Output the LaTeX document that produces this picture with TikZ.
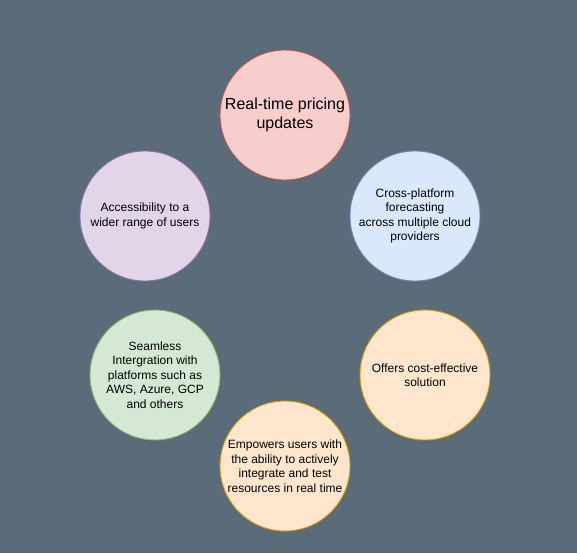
\documentclass[tikz,border=0pt]{standalone}
\usepackage{fontspec}
\setmainfont{Liberation Sans}
\usetikzlibrary{positioning}

% ====== colours ======
\definecolor{slate}{HTML}{5A6B7A}
\definecolor{redfill}{HTML}{F8CECC}
\definecolor{redline}{HTML}{B85450}
\definecolor{bluefill}{HTML}{DAE8FC}
\definecolor{blueline}{HTML}{6C8EBF}
\definecolor{purplefill}{HTML}{E1D5E7}
\definecolor{purpleline}{HTML}{9673A6}
\definecolor{greenfill}{HTML}{D5E8D4}
\definecolor{greenline}{HTML}{82B366}
\definecolor{orangefill}{HTML}{FFE6CC}
\definecolor{orangeline}{HTML}{D79B00}

\begin{document}
\begin{tikzpicture}[x=1pt, y=-1pt,
	feature/.style={circle, draw, line width=0.9pt, minimum size=130pt, inner sep=0pt,
		align=center, font=\fontsize{12}{14.5}\selectfont}]
	% ====== background ======
	\fill[slate] (0,0) rectangle (577,553);
	\useasboundingbox (0,0) rectangle (577,553);
	
	% ====== circles ======
	\node[feature, fill=redfill, draw=redline, font=\fontsize{16}{19}\selectfont]
	(pricing) at (285,115) {Real-time pricing\\updates};
	\node[feature, fill=bluefill, draw=blueline]
	(forecast) at (415,216) {Cross-platform\\forecasting\\across multiple cloud\\providers};
	\node[feature, fill=purplefill, draw=purpleline]
	(access) at (145,216) {Accessibility to a\\wider range of users};
	\node[feature, fill=greenfill, draw=greenline]
	(integration) at (155,375) {Seamless\\Intergration with\\platforms such as\\AWS, Azure, GCP\\and others};
	\node[feature, fill=orangefill, draw=orangeline]
	(cost) at (425,375) {Offers cost-effective\\solution};
	\node[feature, fill=orangefill, draw=orangeline]
	(empower) at (285,466) {Empowers users with\\the ability to actively\\integrate and test\\resources in real time};
\end{tikzpicture}
\end{document}
